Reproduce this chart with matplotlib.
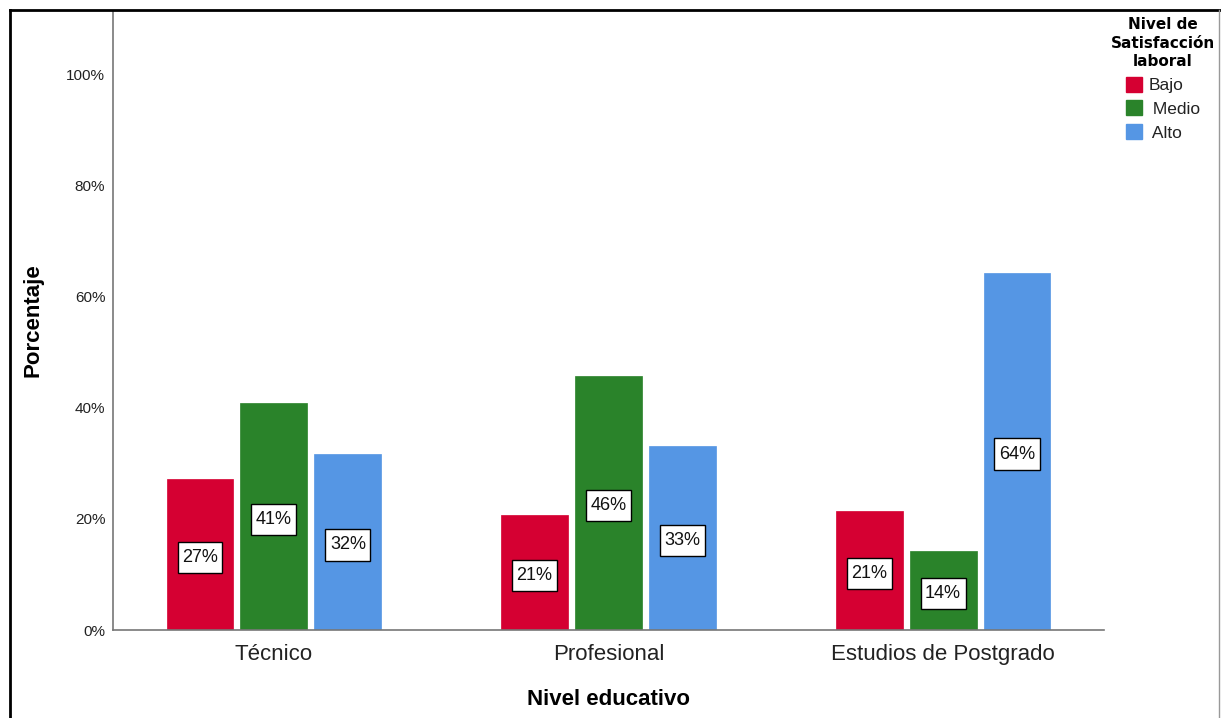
import matplotlib
matplotlib.use("Agg")
import matplotlib.pyplot as plt
from matplotlib.lines import Line2D
from matplotlib.patches import Patch
from matplotlib.path import Path
import numpy as np

plt.rcParams['font.family'] = ['Liberation Sans', 'DejaVu Sans']

categories = ["Técnico", "Profesional", "Estudios de Postgrado"]
levels = ["Bajo", "Medio", "Alto"]
legend_labels = ["Bajo", " Medio", " Alto"]
bajo = [27.1, 20.7, 21.4]
medio = [40.8, 45.8, 14.2]
alto = [31.6, 33.2, 64.3]
series = [bajo, medio, alto]
colors = ["#D50032", "#2A832A", "#5596E4"]
yticks = [0, 20, 40, 60, 80, 100]


def label_box(x0, y0, width, height, mutation_size):
    """Rectangle around a value label, padded more vertically than horizontally."""
    px = 0.25 * mutation_size
    py = 0.40 * mutation_size
    x1, y1 = x0 - px, y0 - py
    x2, y2 = x0 + width + px, y0 + height + py
    verts = [(x1, y1), (x2, y1), (x2, y2), (x1, y2), (x1, y1)]
    codes = [Path.MOVETO, Path.LINETO, Path.LINETO, Path.LINETO, Path.CLOSEPOLY]
    return Path(verts, codes)


fig = plt.figure(figsize=(12.21, 7.18), dpi=100)
ax = fig.add_axes([113 / 1221, 88 / 718, (1104 - 113) / 1221, (630 - 11) / 718])

x = np.arange(len(categories))
width = 0.2
step = 0.221
for i, (vals, col) in enumerate(zip(series, colors)):
    pos = x + (i - 1) * step
    ax.bar(pos, vals, width=width, color=col, edgecolor=col, linewidth=0.5, zorder=2)
    for px, v in zip(pos, vals):
        ax.text(px, v / 2 - 0.5, f"{v:.0f}%", ha="center", va="center", fontsize=13,
                color="#111111", zorder=3,
                bbox=dict(boxstyle=label_box, fc="white", ec="black", lw=1.0))

ax.set_xlim(-0.481, 2.481)
ax.set_ylim(0, 111.4)
ax.set_yticks(yticks)
ax.set_yticklabels([f"{t}%" for t in yticks], fontsize=11, color="#222222")
ax.set_xticks(x)
ax.set_xticklabels(categories, fontsize=16, color="#222222")
ax.tick_params(axis="both", length=0)
ax.tick_params(axis="y", pad=5.5)
ax.tick_params(axis="x", pad=10)

for side in ["top", "right"]:
    ax.spines[side].set_visible(False)
for side in ["left", "bottom"]:
    ax.spines[side].set_color("#777777")
    ax.spines[side].set_linewidth(1.2)

ax.set_ylabel("Porcentaje", fontsize=16, fontweight="bold")
ax.set_xlabel("Nivel educativo", fontsize=16, fontweight="bold")
ax.yaxis.set_label_coords(-0.070, 0.5)
ax.xaxis.set_label_coords(0.5, -0.096)

# legend
handles = [Patch(facecolor=c, edgecolor=c) for c in colors]
leg = fig.legend(handles, legend_labels, title="Nivel de\nSatisfacción\nlaboral",
                 loc="upper center", bbox_to_anchor=(1163 / 1221, 1 - 5 / 718),
                 frameon=False, fontsize=12.5,
                 title_fontproperties={"family": "DejaVu Sans", "weight": "bold", "size": 11},
                 handlelength=0.95, handleheight=0.95, handletextpad=0.35,
                 labelspacing=0.42, borderpad=0.2)
leg.get_title().set_multialignment("center")
leg.get_title().set_linespacing(1.3)
leg._legend_box.align = "center"
for t in leg.get_texts():
    t.set_color("#222222")

# outer frame
fig.add_artist(Line2D([10 / 1221, 10 / 1221], [0, 1 - 10 / 718], color="black", lw=2,
                      transform=fig.transFigure))
fig.add_artist(Line2D([10 / 1221, 1], [1 - 10 / 718, 1 - 10 / 718], color="black", lw=2,
                      transform=fig.transFigure))
fig.add_artist(Line2D([1219 / 1221, 1219 / 1221], [0, 1 - 10 / 718], color="#999999", lw=1,
                      transform=fig.transFigure))

fig.savefig("out.png", dpi=100, facecolor="white")
